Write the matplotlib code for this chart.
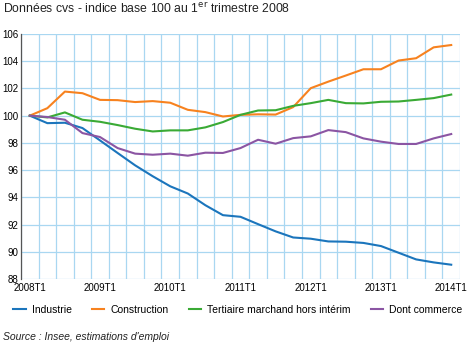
import numpy as np
import matplotlib.pyplot as plt

plt.rcParams['font.family'] = ['Liberation Sans', 'DejaVu Sans']

# quarters 2008T1 .. 2014T1
quarters = [f"{y}T{q}" for y in range(2008, 2015) for q in range(1, 5)][:25]
tick_labels = ["2008T1", "2009T1", "2010T1", "2011T1", "2012T1", "2013T1", "2014T1"]

industrie = [100, 99.45, 99.48, 99.09, 98.18, 97.26, 96.35, 95.55, 94.81, 94.28,
             93.42, 92.69, 92.57, 92.03, 91.5, 91.05, 90.96, 90.76, 90.74, 90.65,
             90.42, 89.93, 89.44, 89.22, 89.05]
construction = [100, 100.55, 101.77, 101.65, 101.16, 101.14, 101.0, 101.07, 100.95, 100.43,
                100.26, 99.94, 100.06, 100.1, 100.08, 100.63, 102.02, 102.5, 102.95, 103.41,
                103.41, 104.05, 104.22, 105.02, 105.19]
tertiaire = [100, 99.87, 100.24, 99.70, 99.55, 99.31, 99.04, 98.84, 98.92, 98.92,
             99.14, 99.53, 100.06, 100.38, 100.4, 100.72, 100.92, 101.16, 100.92, 100.9,
             101.02, 101.04, 101.16, 101.29, 101.55]
commerce = [100, 99.9, 99.7, 98.72, 98.43, 97.62, 97.21, 97.13, 97.21, 97.06,
            97.28, 97.26, 97.62, 98.23, 97.94, 98.35, 98.48, 98.94, 98.79, 98.33,
            98.09, 97.92, 97.92, 98.33, 98.65]

series = [("Industrie", industrie, "#1b75bc"),
          ("Construction", construction, "#f7821f"),
          ("Tertiaire marchand hors intérim", tertiaire, "#3aaa35"),
          ("Dont commerce", commerce, "#8b55a3")]

fig = plt.figure(figsize=(4.7, 3.47), dpi=100)
ax = fig.add_axes([21/470, 1-279/347, 439/470, 245/347])

x = np.arange(len(quarters))
grid_col = "#a9d7f1"
for k in range(len(quarters) + 1):
    ax.axvline(k - 0.5, color=grid_col, lw=0.9, zorder=0)
for v in range(88, 107, 2):
    ax.axhline(v, color=grid_col, lw=0.9, zorder=0)

for name, vals, col in series:
    ax.plot(x, vals, color=col, lw=1.5, label=name, zorder=3)

ax.set_xlim(-0.5, len(quarters) - 0.5)
ax.set_ylim(88, 106)
ax.set_yticks(range(88, 107, 2))
ax.set_xticks(x[::4])
ax.set_xticklabels(tick_labels)
ax.tick_params(axis='both', length=0, labelsize=7, pad=2)
ax.tick_params(axis='x', pad=3)
for s in ["top", "right", "bottom"]:
    ax.spines[s].set_visible(False)
ax.spines["left"].set_color("#555555")
ax.spines["left"].set_linewidth(0.9)

fig.legend(loc="center", bbox_to_anchor=(238/470, 1-310/347), ncol=4, frameon=False,
           fontsize=7.5, handlelength=1.2, columnspacing=1.9, handletextpad=0.6)

fig.text(3/470, 1-9/347, "Données cvs - indice base 100 au 1$^{\\mathrm{er}}$ trimestre 2008",
         fontsize=8.8, va="center", ha="left", color="#222222")
fig.text(3/470, 1-337/347, "Source : Insee, estimations d'emploi", fontsize=7.5,
         style="italic", va="center", ha="left", color="#222222")

fig.savefig("out.png", dpi=100)
